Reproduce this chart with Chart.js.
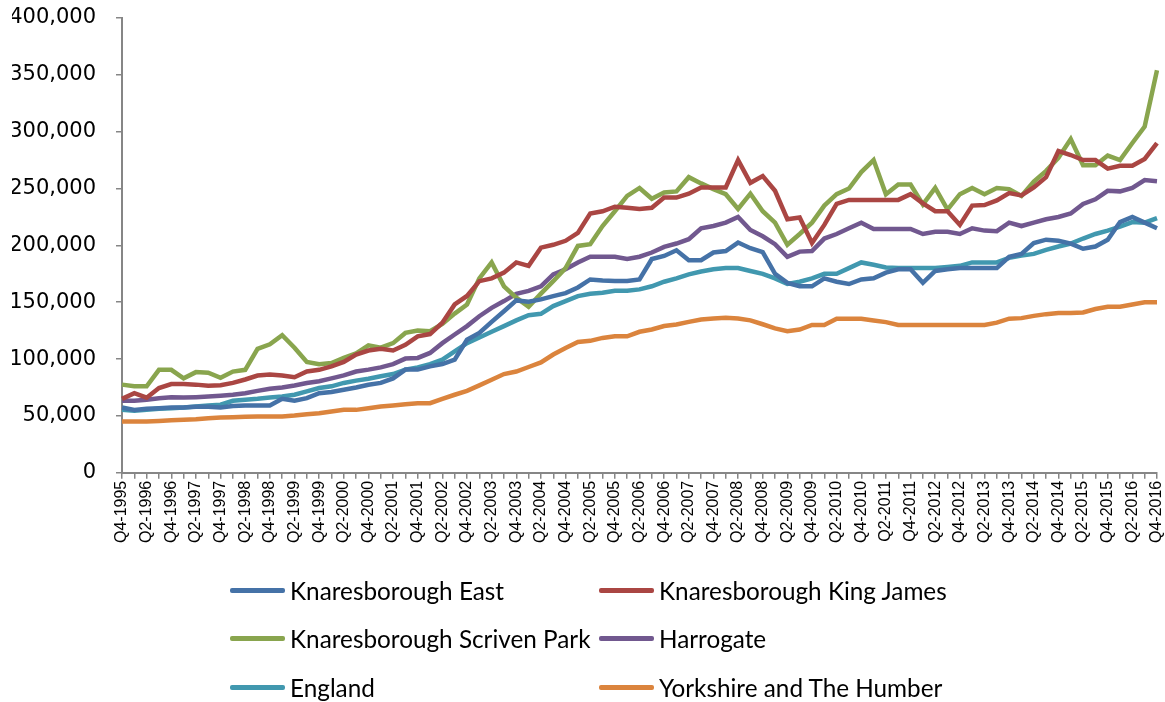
<!DOCTYPE html>
<html>
<head>
<meta charset="utf-8">
<script src="https://cdn.jsdelivr.net/npm/chart.js@4/dist/chart.umd.min.js"></script>
<style>
  body { margin: 0; background: #fff; }
  #wrap { position: relative; width: 1165px; height: 702px; }
  #legend {
    position: absolute; left: 230px; top: 566px;
    display: grid; grid-template-columns: 369px 369px; grid-auto-rows: 48.5px;
    font-family: Lato, 'Open Sans', sans-serif; font-size: 24.3px; color: #000;
  }
  .item { display: flex; align-items: center; white-space: nowrap; }
  .swatch { width: 55px; height: 5px; border-radius: 2px; margin-right: 5px; }
</style>
</head>
<body>
<div id="wrap">
  <canvas id="myChart" width="1165" height="702"></canvas>
  <div id="legend"></div>
</div>
<script>
// Quarter labels, Q4-1995 .. Q4-2016
var labels = ['Q4-1995'];
for (var y = 1996; y <= 2016; y++) {
    for (var q = 1; q <= 4; q++) labels.push('Q' + q + '-' + y);
}

// Average house prices
var east = [57400, 55300, 56200, 56800, 57400, 57400, 58000, 58000, 57400, 58600,
    59200, 59200, 59200, 65000, 63300, 65600, 70000, 71000, 73000, 75000,
    77400, 79000, 83000, 90700, 90700, 93600, 95600, 99500, 117000, 123000,
    132700, 142000, 151600, 150400, 152500, 155400, 158000, 163000, 170000, 169000,
    168600, 168600, 170000, 188000, 190700, 195700, 187000, 187000, 193700, 195000,
    202500, 197500, 194000, 175000, 167000, 164000, 164000, 171000, 168000, 166000,
    170000, 171000, 176000, 179000, 179000, 167000, 177500, 179000, 180000, 180000,
    180000, 180000, 190000, 192500, 202000, 205000, 204000, 201500, 197000, 199000,
    205000, 220500, 225000, 220000, 215000];

var kingJames = [65000, 70000, 66000, 74500, 78000, 78000, 77500, 76500, 77000, 79000,
    82000, 85500, 86500, 85500, 84000, 89000, 90500, 93500, 97500, 104000,
    107500, 109000, 107500, 112500, 120000, 122000, 132000, 148000, 155500, 168500,
    171000, 176000, 185000, 182000, 198000, 200500, 204000, 211000, 228000, 230000,
    234000, 233000, 232000, 233000, 242000, 242000, 245500, 251000, 251000, 251000,
    275000, 255000, 261000, 248000, 223000, 224500, 202000, 218000, 236500, 240000,
    240000, 240000, 240000, 240000, 245000, 237000, 230000, 230000, 218000, 235000,
    235500, 239500, 246000, 244000, 251000, 260000, 283000, 279500, 275000, 275000,
    267500, 270000, 270000, 276000, 290000];

var scrivenPark = [77500, 76000, 76000, 90500, 90500, 83000, 88500, 88000, 83500, 89000,
    90500, 109000, 113000, 121000, 110000, 97500, 95500, 96500, 101000, 105000,
    112000, 110000, 114000, 123000, 125000, 124500, 131000, 140000, 148000, 171000,
    185000, 164000, 154000, 146000, 157500, 168500, 180000, 199500, 201000, 217000,
    230000, 243500, 250500, 241000, 246500, 247500, 260000, 254500, 249500, 245000,
    232000, 245500, 230000, 220000, 200500, 210000, 220000, 235000, 245000, 250000,
    264500, 275000, 245000, 253500, 253500, 236000, 250500, 231500, 245000, 250500,
    245000, 250500, 249500, 243500, 256000, 265500, 277000, 293500, 270500, 270500,
    279000, 275000, 290000, 304500, 354000];

var harrogate = [63300, 63300, 64200, 65600, 66500, 66200, 66500, 67000, 67700, 68600,
    70000, 72000, 73900, 75000, 76800, 78900, 80500, 83000, 85600, 89000,
    90700, 92700, 95600, 100400, 101000, 105400, 114000, 121600, 129000, 137700,
    145000, 151000, 157400, 160000, 164000, 174500, 179000, 185000, 190000, 190000,
    190000, 188000, 190000, 193700, 198700, 201600, 205400, 215000, 217000, 220000,
    225000, 213500, 208000, 201000, 190000, 194500, 195000, 206000, 210000, 215000,
    220000, 214500, 214500, 214500, 214500, 210000, 212000, 212000, 210000, 215000,
    213000, 212500, 220000, 217000, 220000, 223000, 225000, 228000, 236500, 240500,
    248000, 247500, 250500, 257500, 256500];

var england = [55300, 54500, 55300, 56200, 56800, 57400, 58300, 59200, 59800, 63300,
    64200, 65000, 66200, 67000, 68600, 71500, 74500, 76000, 79000, 81000,
    82700, 84800, 86800, 90700, 92700, 95600, 99500, 106800, 114000, 119000,
    124000, 129000, 134000, 138600, 139800, 146600, 151000, 155400, 157500, 158300,
    160000, 160000, 161300, 164000, 168000, 171000, 174500, 177000, 179000, 180000,
    180000, 177500, 175000, 171000, 166000, 168000, 171000, 175000, 175000, 180000,
    185000, 183000, 180600, 180000, 180000, 180000, 180000, 181000, 182000, 185000,
    185000, 185000, 189000, 191000, 192500, 196000, 199000, 201500, 206000, 210000,
    213000, 216500, 220500, 220000, 224000];

var yorkshire = [45000, 45000, 45000, 45600, 46200, 46500, 47000, 48000, 48600, 48900,
    49200, 49400, 49400, 49400, 50300, 51500, 52400, 53900, 55300, 55300,
    56800, 58300, 59200, 60300, 61200, 61200, 65000, 68600, 72000, 76800,
    81800, 86800, 89000, 93000, 97000, 104000, 109800, 115000, 116000, 118600,
    120000, 120000, 124000, 126000, 129000, 130400, 132700, 134800, 135700, 136300,
    135700, 134000, 130600, 127000, 124500, 126000, 130000, 130000, 135500, 135500,
    135500, 134000, 132500, 130000, 130000, 130000, 130000, 130000, 130000, 130000,
    130000, 132000, 135500, 136000, 138000, 139500, 140500, 140500, 141000, 144000,
    146000, 146000, 148000, 150000, 150000];

var seriesNames = ['Knaresborough East', 'Knaresborough King James', 'Knaresborough Scriven Park',
    'Harrogate', 'England', 'Yorkshire and The Humber'];
var seriesData = [east, kingJames, scrivenPark, harrogate, england, yorkshire];
var seriesColors = ['#4572A7', '#AA4643', '#89A54E', '#71588F', '#4198AF', '#DB843D'];

var axisGrey = '#868686';

var ctx = document.getElementById('myChart').getContext('2d');

var myChart = new Chart(ctx, {
    type: 'line',
    data: {
        labels: labels,
        datasets: seriesNames.map(function(name, i) {
            return {
                label: name,
                data: seriesData[i],
                borderColor: seriesColors[i],
                backgroundColor: seriesColors[i],
                borderWidth: 4.5,
                pointRadius: 0,
                tension: 0,
                fill: false
            };
        })
    },
    options: {
        responsive: false,
        animation: false,
        layout: { padding: { left: 12, right: 8, top: 18, bottom: 157 } },
        scales: {
            x: {
                offset: false,
                // let the layout padding alone decide where the plot ends
                afterFit: function(axis) { axis.paddingLeft = 0; axis.paddingRight = 0; },
                grid: { drawOnChartArea: false, drawTicks: true, tickLength: 6, color: axisGrey, lineWidth: 1.5 },
                border: { color: axisGrey, width: 2 },
                ticks: {
                    autoSkip: false,
                    minRotation: 90,
                    maxRotation: 90,
                    padding: 2,
                    color: '#000',
                    font: { family: 'Liberation Sans', size: 16 },
                    callback: function(value, index) {
                        // only every second quarter gets a label
                        return index % 2 === 0 ? labels[index] : '';
                    }
                }
            },
            y: {
                min: 0,
                max: 400000,
                afterFit: function(axis) { axis.width = 110; axis.paddingTop = 0; axis.paddingBottom = 0; },
                grid: { drawOnChartArea: false, drawTicks: true, tickLength: 6, color: axisGrey, lineWidth: 1.5 },
                border: { color: axisGrey, width: 2 },
                ticks: {
                    stepSize: 50000,
                    padding: 20,
                    color: '#000',
                    font: { family: 'DejaVu Sans', size: 21 },
                    callback: function(value) { return value.toLocaleString('en-US'); }
                }
            }
        },
        plugins: {
            legend: { display: false },
            tooltip: { enabled: false }
        }
    }
});

// HTML legend, two columns like the original
var legendEl = document.getElementById('legend');
myChart.data.datasets.forEach(function(ds) {
    var item = document.createElement('div');
    item.className = 'item';
    var sw = document.createElement('span');
    sw.className = 'swatch';
    sw.style.background = ds.borderColor;
    var txt = document.createElement('span');
    txt.textContent = ds.label;
    item.appendChild(sw);
    item.appendChild(txt);
    legendEl.appendChild(item);
});
</script>
</body>
</html>
